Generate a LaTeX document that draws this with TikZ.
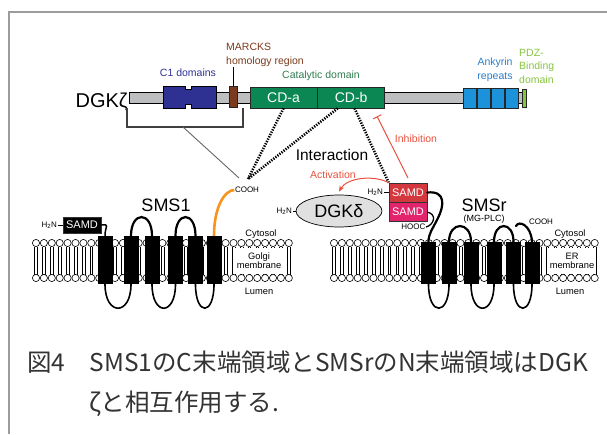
\documentclass[tikz,border=0pt]{standalone}
\usepackage{fontspec}
\setmainfont{Liberation Sans}
\newfontfamily\jpfont{Noto Sans CJK JP}
\usetikzlibrary{arrows.meta,positioning,calc,shapes.geometric}
\definecolor{framegray}{HTML}{9C9C9C}
\definecolor{bargray}{HTML}{BCBEC0}
\definecolor{conenavy}{HTML}{2E3192}
\definecolor{marcksbrown}{HTML}{7B3A1D}
\definecolor{cdgreen}{HTML}{0A8752}
\definecolor{catgreen}{HTML}{2F7D4F}
\definecolor{ankblue}{HTML}{1C92DA}
\definecolor{anktext}{HTML}{2B7CC9}
\definecolor{pdzgreen}{HTML}{86C440}
\definecolor{samdred}{HTML}{D4383F}
\definecolor{samdpink}{HTML}{E1246B}
\definecolor{regred}{HTML}{E8513F}
\definecolor{ctorange}{HTML}{F7941D}
\definecolor{capgray}{HTML}{333333}

% lipid bilayer: x of first head, number of extra lipids
\newcommand{\bilayer}[2]{%
  \foreach \i in {0,...,#2}{%
    \pgfmathsetmacro{\hx}{#1+7.9*\i}
    \draw[line width=0.5pt] (\hx-1.4,246.5) -- (\hx-1.4,274.5) (\hx+1.4,246.5) -- (\hx+1.4,274.5);
    \draw[line width=0.6pt,fill=white] (\hx,243) circle (3.6pt) (\hx,278) circle (3.6pt);
  }}

\begin{document}
\begin{tikzpicture}[x=1pt,y=-1pt,
    lbl/.style={inner sep=0pt,align=center,font=\fontsize{10.5}{13.5}\selectfont},
    tiny/.style={inner sep=0.5pt,font=\fontsize{8}{8}\selectfont},
    mem/.style={inner sep=0.5pt,align=center,font=\fontsize{9.3}{8.8}\selectfont},
    big/.style={inner sep=0pt,font=\fontsize{18}{18}\selectfont},
    dom/.style={draw=black!85,line width=0.7pt,inner sep=0pt,minimum height=21pt},
    cd/.style={dom,fill=cdgreen,text=white,minimum width=67pt,font=\fontsize{14}{14}\selectfont},
    samd/.style={draw=black!80,line width=0.6pt,text=white,minimum width=38pt,minimum height=19pt,inner sep=0pt,font=\fontsize{11}{11}\selectfont},
    tm/.style={fill=black,minimum width=15pt,inner sep=0pt},
    chain/.style={line width=2.2pt,line cap=round},
    lum/.style={line width=1.6pt},
    dots/.style={line width=2.6pt,dash pattern=on 1.3pt off 1.3pt},
    reg/.style={regred,line width=1pt},
    captext/.style={anchor=base west,inner sep=0pt,text=capgray,font=\jpfont\fontsize{24.5}{24.5}\selectfont}]
  \useasboundingbox (0,0) rectangle (607,434);
  \draw[framegray,line width=2.2pt] (9,434) -- (9,12) -- (607,12);

  % DGK zeta domain map
  \draw[fill=bargray,line width=0.8pt] (129,92) rectangle (523,103);
  \draw[fill=conenavy,line width=0.7pt] (163,86) -- (185,86) -- (185,89.5) -- (191,89.5) -- (191,86) -- (216,86)
    -- (216,108) -- (191,108) -- (191,104.5) -- (185,104.5) -- (185,108) -- (163,108) -- cycle;
  \node[dom,fill=marcksbrown,minimum width=8pt] (marcks) at (233,97) {};
  \node[cd] (cda) at (283.5,97.5) {CD-a};
  \node[cd,right=0pt of cda] (cdb) {CD-b};
  \foreach \k in {0,...,3}
    \node[dom,fill=ankblue,minimum width=13pt,minimum height=20pt] (ank\k) at (469.5+14*\k,98) {};
  \node[dom,fill=pdzgreen,minimum width=4pt,minimum height=18pt] (pdz) at (524.5,98) {};

  \node[anchor=base east,inner sep=0pt,font=\fontsize{20}{20}\selectfont] (dgkz) at (128,107) {DGKζ};
  \node[lbl,text=conenavy] (c1lbl) at (188,73) {C1 domains};
  \node[lbl,text=marcksbrown,align=left,anchor=west] (marckslbl) at (226,55) {MARCKS\\homology region};
  \node[lbl,text=catgreen] (catlbl) at (321,76) {Catalytic domain};
  \node[lbl,text=anktext] (anklbl) at (495,70) {Ankyrin\\repeats};
  \node[lbl,text=pdzgreen,align=left,anchor=west] (pdzlbl) at (519,66) {PDZ-\\Binding\\domain};
  \draw[line width=0.8pt] (marcks.north |- marckslbl.south) -- (marcks.north);
  \draw[line width=1.2pt,black!75] (127,108) -- (127,127) -- (243,127) -- (243,108);
  \coordinate (brk) at (183,127);

  % membranes and labels
  \bilayer{36}{32}
  \bilayer{334}{33}
  \node[mem] (cyto1) at (261,234) {Cytosol};
  \node[mem,fill=white,minimum width=52pt,minimum height=26pt] (golgi) at (259,261) {Golgi\\membrane};
  \node[mem] (lumen1) at (259,291) {Lumen};
  \node[mem] (cyto2) at (570,234) {Cytosol};
  \node[mem,fill=white,minimum width=48pt,minimum height=26pt] (er) at (572,261) {ER\\membrane};
  \node[mem] (lumen2) at (570,291) {Lumen};

  % SMS1
  \foreach \n/\x in {1/105,2/131,3/152,4/175.5,5/195.5,6/214}
    \node[tm,minimum height=48pt] (s\n) at (\x,260) {};
  \draw[chain] (s2.north) .. controls +(0,-25) and +(0,-25) .. (s3.north);
  \draw[chain] (s4.north) .. controls +(0,-25) and +(0,-25) .. (s5.north);
  \draw[lum] (s1.south) .. controls +(0,32) and +(0,32) .. (s2.south);
  \draw[lum] (s3.south) .. controls +(0,32) and +(0,32) .. (s4.south);
  \draw[lum] (s5.south) .. controls +(0,32) and +(0,32) .. (s6.south);
  \node[samd,fill=black,minimum height=16pt] (samd1) at (82,225) {SAMD};
  \node[tiny,left=5pt of samd1] (n1) {H\textsubscript{2}N};
  \draw[line width=1pt] (n1) -- (samd1);
  \draw[line width=1.5pt] (samd1.east) .. controls +(9,-1) and +(0,-10) .. (s1.north);
  \node[tiny] (cooh1) at (247,190) {COOH};
  \draw[ctorange,line width=2.6pt] (s6.north) .. controls +(0,-30) and +(-9,0) .. (cooh1.west);
  \node[big] (sms1) at (166,205) {SMS1};

  % SMSr with its two SAM domains
  \node[samd,fill=samdred] (samdA) at (408,192.5) {SAMD};
  \node[samd,fill=samdpink,below=0pt of samdA] (samdB) {SAMD};
  \node[tiny,left=5pt of samdA] (nA) {H\textsubscript{2}N};
  \draw[line width=1pt] (nA) -- (samdA);
  \node[tiny,anchor=east] (hooc) at (426,227) {HOOC};
  \foreach \n/\x in {1/428.5,2/449,3/471,4/494,5/513.5,6/532}
    \node[tm,minimum height=42pt] (r\n) at (\x,263) {};
  \draw[chain] (r2.north) .. controls +(0,-21) and +(0,-21) .. (r3.north);
  \draw[chain] (r4.north) .. controls +(0,-21) and +(0,-21) .. (r5.north);
  \draw[lum] (r1.south) .. controls +(0,32) and +(0,32) .. (r2.south);
  \draw[lum] (r3.south) .. controls +(0,32) and +(0,32) .. (r4.south);
  \draw[lum] (r5.south) .. controls +(0,32) and +(0,32) .. (r6.south);
  \coordinate (rbend) at (438,218);
  \draw[chain] (samdA.east) .. controls +(19,-2) and +(6,-12) .. (rbend) .. controls +(-6,12) and +(0,-8) .. (r1.north);
  \draw[line width=1.3pt] (samdB.east) .. controls +(10,2) and +(8,-2) .. (hooc.east);
  \coordinate (rtail) at (516,226);
  \draw[chain] (rtail) .. controls (519,220) and (531,225) .. (r6.north);
  \node[tiny] (cooh2) at (541,222) {COOH};
  \node[big] (smsr) at (484,205) {SMSr};
  \node[inner sep=0pt,font=\fontsize{9}{9}\selectfont,below=3pt of smsr] (mgplc) {(MG-PLC)};

  % DGK delta
  \node[ellipse,draw,line width=0.7pt,fill=black!12,minimum width=86pt,minimum height=32pt,inner sep=0pt,
    font=\fontsize{18}{18}\selectfont] (dgkd) at (339,211) {DGKδ};
  \node[tiny,left=3pt of dgkd] (nD) {H\textsubscript{2}N};
  \draw[line width=1pt] (nD) -- (dgkd);

  % interactions
  \coordinate (meet) at (248,179);
  \coordinate (thinend) at (239,178);
  \draw[black!60,line width=0.9pt] (brk) -- (thinend);
  \draw[dots] (cda.south) -- (meet);
  \draw[dots] ($(cdb.south west)!0.3!(cdb.south east)$) -- (meet);
  \draw[dots] ($(cdb.south west)!0.55!(cdb.south east)$) -- (samdA.north west);
  \node[inner sep=0pt,font=\fontsize{15.5}{15.5}\selectfont] (inter) at (332,155) {Interaction};
  \draw[reg,-{Stealth[length=6pt,width=5pt]}] (samdA.north west) .. controls +(-15,-8) and +(8,-14) .. ([yshift=3pt]dgkd.north);
  \node[lbl,text=regred] (actlbl) at (333,175) {Activation};
  \coordinate (inhfrom) at (408,178);
  \draw[reg,-{Bar[width=9pt]}] (inhfrom) -- ($(cdb.south east)+(-8,8)$);
  \node[lbl,text=regred] (inhlbl) at (416,139) {Inhibition};

  % caption
  \node[captext] (cap1) at (27,371) {図4　SMS1のC末端領域とSMSrのN末端領域はDGK};
  \node[captext] (cap2) at (89,411) {ζと相互作用する.};
\end{tikzpicture}
\end{document}
